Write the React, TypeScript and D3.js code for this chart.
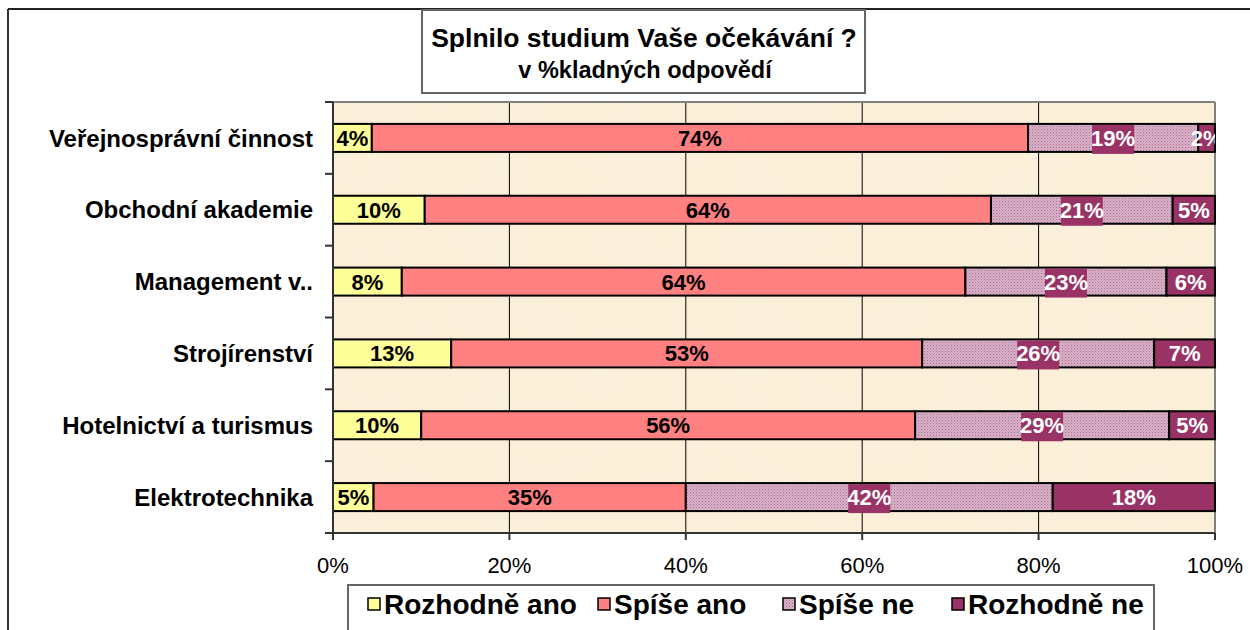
import React from "react";
import * as d3 from "d3";

const categories = [
  "Veřejnosprávní činnost",
  "Obchodní akademie",
  "Management v..",
  "Strojírenství",
  "Hotelnictví a turismus",
  "Elektrotechnika",
];
const seriesNames = ["Rozhodně ano", "Spíše ano", "Spíše ne", "Rozhodně ne"];
const rozhodneAno = [4.4, 10.4, 7.8, 13.4, 10.0, 4.6];
const spiseAno = [74.4, 64.2, 63.9, 53.4, 56.0, 35.4];
const spiseNe = [19.3, 20.6, 22.8, 26.3, 28.8, 41.6];
const rozhodneNe = [1.9, 4.8, 5.5, 6.9, 5.2, 18.4];
const xTicks = [0, 20, 40, 60, 80, 100];
const titleText = "Splnilo studium Vaše očekávání ?";
const subtitleText = "v %kladných odpovědí";

const seriesValues = [rozhodneAno, spiseAno, spiseNe, rozhodneNe];
const fills = ["#FFFF99", "#FF8080", "url(#dotPat)", "#993366"];
const labelColors = ["#000", "#000", "#fff", "#fff"];

const W = 1250;
const H = 630;
const PL = 333;
const PR = 1215;
const PT = 102;
const PB = 533;
const FONT = "'Liberation Sans', Arial, sans-serif";

export default function App() {
  const x = d3.scaleLinear().domain([0, 100]).range([PL, PR]);
  const y = d3.scaleBand<string>().domain(categories).range([PT, PB]);
  const step = y.step();
  const barH = step * 0.39;

  const rows = categories.map((c, i) => {
    let acc = 0;
    return seriesValues.map((vals, s) => {
      const v = vals[i];
      const seg = { s, x0: acc, x1: acc + v, v, cat: c };
      acc += v;
      return seg;
    });
  });

  const legendItems = [
    { sx: 368, tx: 384 },
    { sx: 598, tx: 614 },
    { sx: 783, tx: 799 },
    { sx: 952, tx: 968 },
  ];

  return (
    <svg
      width={W}
      height={H}
      style={{ position: "absolute", left: 0, top: 0, background: "#fff" }}
      fontFamily={FONT}
    >
      <defs>
        <pattern id="dotPat" width="3" height="3" patternUnits="userSpaceOnUse">
          <rect width="3" height="3" fill="#DAB0C9" />
          <rect x="0" y="0" width="1" height="1" fill="#A8708F" />
          <rect x="1.5" y="1.5" width="1" height="1" fill="#B98BA6" />
        </pattern>
        <filter id="parch" x="0" y="0" width="100%" height="100%">
          <feTurbulence type="fractalNoise" baseFrequency="0.015" numOctaves="3" seed="4" result="n" />
          <feColorMatrix
            in="n"
            type="matrix"
            values="0 0 0 0 0.95  0 0 0 0 0.86  0 0 0 0 0.72  0 0 0 1.2 -0.5"
            result="c"
          />
          <feComposite in="c" in2="SourceGraphic" operator="in" />
        </filter>
        <clipPath id="plotClip">
          <rect x={PL} y={PT} width={PR - PL} height={PB - PT} />
        </clipPath>
      </defs>

      {/* outer chart border */}
      <line x1={8} y1={9} x2={W} y2={9} stroke="#222" strokeWidth={2} />
      <line x1={8} y1={9} x2={8} y2={H} stroke="#333" strokeWidth={2} />

      {/* plot background */}
      <rect x={PL} y={PT} width={PR - PL} height={PB - PT} fill="#FBEFD9" />
      <rect x={PL} y={PT} width={PR - PL} height={PB - PT} fill="#fff" filter="url(#parch)" />

      {/* gridlines */}
      {xTicks.slice(1, -1).map((t) => (
        <line key={t} x1={x(t)} x2={x(t)} y1={PT} y2={PB} stroke="#000" strokeWidth={1} />
      ))}

      {/* plot border top / right */}
      <line x1={PL} x2={PR} y1={PT} y2={PT} stroke="#808080" strokeWidth={2} />
      <line x1={PR} x2={PR} y1={PT} y2={PB} stroke="#808080" strokeWidth={2} />

      {/* bars */}
      {rows.map((segs, i) =>
        segs.map((sg) => {
          const yc = (y(sg.cat) as number) + step / 2;
          return (
            <rect
              key={`b${i}-${sg.s}`}
              x={x(sg.x0)}
              y={yc - barH / 2}
              width={x(sg.x1) - x(sg.x0)}
              height={barH}
              fill={fills[sg.s]}
              stroke="#000"
              strokeWidth={2}
            />
          );
        })
      )}

      {/* data labels */}
      <g clipPath="url(#plotClip)">
        {rows.map((segs, i) =>
          segs.map((sg) => {
            const yc = (y(sg.cat) as number) + step / 2;
            const cx = (x(sg.x0) + x(sg.x1)) / 2;
            return (
              <g key={`l${i}-${sg.s}`}>
                {sg.s === 2 && (
                  <rect x={cx - 21} y={yc - barH / 2 + 1} width={42} height={barH + 1} fill="#993366" />
                )}
                <text
                  x={cx}
                  y={yc}
                  dy="0.36em"
                  textAnchor="middle"
                  fontWeight="bold"
                  fontSize={22}
                  fill={labelColors[sg.s]}
                >
                  {Math.round(sg.v)}%
                </text>
              </g>
            );
          })
        )}
      </g>

      {/* y axis */}
      <line x1={PL} x2={PL} y1={PT} y2={PB} stroke="#333" strokeWidth={2} />
      {d3.range(categories.length + 1).map((k) => (
        <line key={`yt${k}`} x1={PL - 8} x2={PL} y1={PT + k * step} y2={PT + k * step} stroke="#333" strokeWidth={2} />
      ))}
      {categories.map((c) => (
        <text
          key={c}
          x={313}
          y={(y(c) as number) + step / 2}
          dy="0.36em"
          textAnchor="end"
          fontWeight="bold"
          fontSize={24}
          fill="#000"
        >
          {c}
        </text>
      ))}

      {/* x axis */}
      <line x1={PL} x2={PR} y1={PB} y2={PB} stroke="#333" strokeWidth={2} />
      {xTicks.map((t) => (
        <g key={`xt${t}`}>
          <line x1={x(t)} x2={x(t)} y1={PB} y2={PB + 7} stroke="#333" strokeWidth={2} />
          <text x={x(t)} y={573} textAnchor="middle" fontSize={22} fill="#000">
            {t}%
          </text>
        </g>
      ))}

      {/* title box */}
      <rect x={422} y={10} width={443} height={83} fill="#fff" stroke="#666" strokeWidth={2} />
      <text x={644} y={47} textAnchor="middle" fontWeight="bold" fontSize={26.5} fill="#000">
        {titleText}
      </text>
      <text x={645} y={78} textAnchor="middle" fontWeight="bold" fontSize={23.5} fill="#000">
        {subtitleText}
      </text>

      {/* legend */}
      <rect x={348} y={585} width={806} height={60} fill="#fff" stroke="#666" strokeWidth={2} />
      {seriesNames.map((n, i) => (
        <g key={n}>
          <rect x={legendItems[i].sx} y={598} width={12} height={12} fill={fills[i]} stroke="#000" strokeWidth={1.5} />
          <text x={legendItems[i].tx} y={614} fontWeight="bold" fontSize={28} fill="#000">
            {n}
          </text>
        </g>
      ))}
    </svg>
  );
}
